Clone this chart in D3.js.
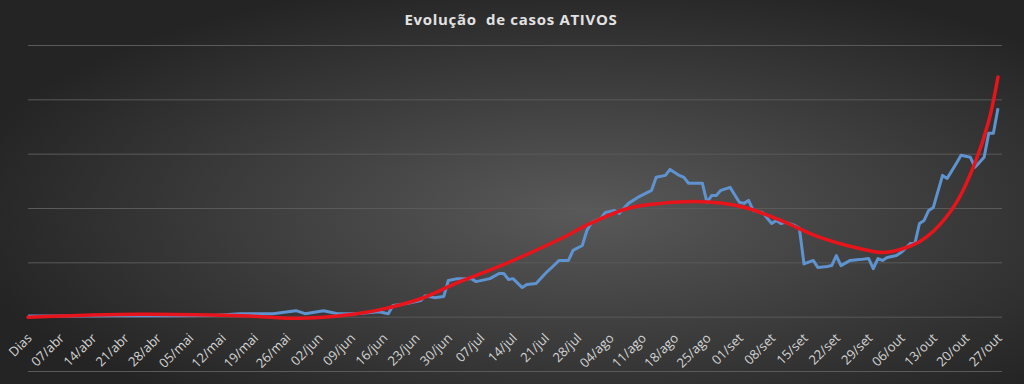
<!DOCTYPE html>
<html>
<head>
<meta charset="utf-8">
<script src="https://cdn.jsdelivr.net/npm/d3@7"></script>
<style>
  body { margin: 0; background: #262626; }
  .grid line { stroke: #5a5a5a; stroke-width: 1; }
  .grid path { display: none; }
</style>
</head>
<body>
<script>
// ==================== Data ============================
// Category axis: index 0 is the "Dias" header cell, then one day per index (01/abr .. 28/out)
const tickLabels = ['Dias', '07/abr', '14/abr', '21/abr', '28/abr', '05/mai', '12/mai', '19/mai', '26/mai',
  '02/jun', '09/jun', '16/jun', '23/jun', '30/jun', '07/jul', '14/jul', '21/jul', '28/jul',
  '04/ago', '11/ago', '18/ago', '25/ago', '01/set', '08/set', '15/set', '22/set', '29/set',
  '06/out', '13/out', '20/out', '27/out'];

// Active cases (blue)
const activeDays = [0, 10, 20, 30, 40, 46, 53, 58, 60, 64, 67, 71, 76, 78, 79, 82, 85, 86, 88, 90,
  91, 93, 96, 97, 100, 102, 103, 104, 105, 107, 108, 110, 112, 115, 117, 118, 120, 121, 122, 124,
  125, 127, 128, 130, 132, 135, 136, 138, 139, 141, 142, 143, 146, 147, 148, 149, 150, 152, 154, 155,
  156, 157, 159, 161, 162, 163, 164, 166, 167, 168, 170, 171, 173, 174, 175, 176, 178, 180, 182, 183,
  184, 185, 186, 188, 189, 191, 192, 193, 194, 195, 196, 198, 199, 201, 202, 204, 205, 206, 207, 208,
  209, 210];
const activeValues = [2, 2, 3, 3, 4, 11, 11, 22, 11, 22, 11, 11, 18, 11, 41, 48, 59, 77, 70, 74,
  133, 140, 140, 129, 140, 159, 159, 137, 140, 107, 118, 122, 159, 207, 207, 244, 262, 317, 347, 362,
  384, 391, 380, 417, 439, 465, 513, 520, 542, 520, 513, 491, 491, 421, 446, 446, 465, 476, 421, 417,
  428, 391, 384, 343, 354, 343, 347, 336, 325, 194, 207, 181, 185, 188, 225, 188, 207, 210, 214, 177,
  214, 207, 218, 225, 236, 269, 269, 343, 354, 391, 402, 520, 509, 565, 594, 587, 550, 568, 587, 675,
  675, 767];

// Trendline (red)
const trendDays = [0, 24, 48, 57, 64, 70, 76, 85, 93, 102, 115, 122, 130, 137, 144, 150, 156, 163,
  171, 180, 185, 189, 193, 196, 201, 205, 208, 210];
const trendValues = [-2, 9, 2, -6, -2, 8, 25, 66, 125, 185, 284, 345, 399, 417, 424, 418, 398, 354,
  295, 251, 236, 248, 276, 314, 420, 565, 720, 882];

const title = 'Evolução  de casos ATIVOS';

// ==================== Set up Variables ============================
const W = 1024, H = 384;
const x = d3.scaleLinear().domain([0, 210]).range([28, 998]);
const y = d3.scaleLinear().domain([-200, 1000]).range([371, 45]);

const svg = d3.select('body')
  .append('svg')
    .attr('width', W)
    .attr('height', H)
    .style('display', 'block');

// Radial background
const grad = svg.append('defs')
  .append('radialGradient')
    .attr('id', 'bg')
    .attr('cx', '57%').attr('cy', '55%').attr('r', '62%');
grad.append('stop').attr('offset', '0%').attr('stop-color', '#595959');
grad.append('stop').attr('offset', '100%').attr('stop-color', '#242424');

svg.append('rect')
  .attr('width', W).attr('height', H)
  .attr('fill', 'url(#bg)');

// Horizontal gridlines
svg.append('g')
  .attr('class', 'grid')
  .attr('transform', 'translate(28, 0)')
  .call(d3.axisLeft(y).ticks(6).tickSize(-974).tickFormat(''));

// Title
svg.append('text')
  .attr('x', 511)
  .attr('y', 25)
  .attr('text-anchor', 'middle')
  .style('font-family', '"Open Sans", sans-serif')
  .style('font-weight', 'bold')
  .style('font-size', '15px')
  .style('letter-spacing', '0.7px')
  .style('fill', '#e2e2e2')
  .style('white-space', 'pre')
  .text(title);

// ==================== Category labels ============================
const xAxis = d3.axisBottom(x)
  .tickValues(tickLabels.map((d, i) => i * 7))
  .tickFormat((d, i) => tickLabels[i])
  .tickSize(0);

svg.append('g')
  .attr('transform', `translate(0, ${y(0)})`)
  .call(xAxis)
  .call(g => g.select('.domain').remove())
  .selectAll('text')
    .style('font-family', '"Open Sans", sans-serif')
    .style('font-size', '13px')
    .style('fill', '#d4d4d4')
    .style('text-anchor', 'end')
    .attr('y', 0)
    .attr('dy', '0.35em')
    .attr('transform', 'translate(1, 19) rotate(-45)');

// ==================== Lines ============================
const activeLine = d3.line()
  .x((d) => x(d[0]))
  .y((d) => y(d[1]));

svg.append('path')
  .datum(activeDays.map((d, i) => [d, activeValues[i]]))
  .attr('fill', 'none')
  .attr('stroke', '#5f93cf')
  .attr('stroke-width', 3)
  .attr('stroke-linejoin', 'round')
  .attr('d', activeLine);

const trendLine = d3.line()
  .curve(d3.curveCatmullRom.alpha(0.5))
  .x((d) => x(d[0]))
  .y((d) => y(d[1]));

svg.append('path')
  .datum(trendDays.map((d, i) => [d, trendValues[i]]))
  .attr('fill', 'none')
  .attr('stroke', '#e8141b')
  .attr('stroke-width', 3.5)
  .attr('stroke-linecap', 'round')
  .attr('d', trendLine);
</script>
</body>
</html>
